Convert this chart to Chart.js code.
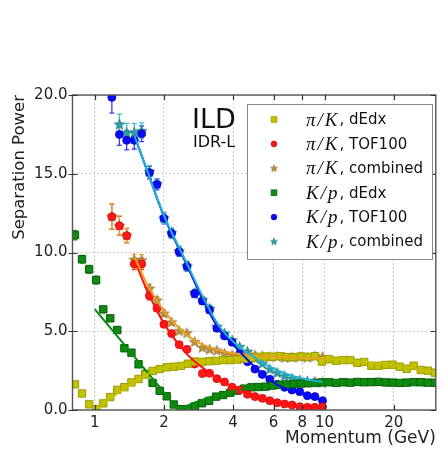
<!DOCTYPE html>
<html>
<head>
<meta charset="utf-8">
<script src="https://cdn.jsdelivr.net/npm/chart.js@4.4.0/dist/chart.umd.min.js"></script>
<style>
  html, body { margin: 0; padding: 0; background: #fff; }
  #wrap { width: 442px; height: 451px; }
</style>
</head>
<body>
<div id="wrap"><canvas id="sep"></canvas></div>
<script>
// dE/dx momentum bins (GeV)
const pDedx = [0.82, 0.88, 0.945, 1.014, 1.089, 1.168, 1.253, 1.346, 1.444, 1.551,
  1.664, 1.785, 1.917, 2.057, 2.208, 2.37, 2.543, 2.731, 2.929, 3.145,
  3.375, 3.621, 3.888, 4.172, 4.479, 4.806, 5.157, 5.536, 5.94, 6.377,
  6.843, 7.342, 7.884, 8.459, 9.085, 9.745, 10.46, 11.23, 12.05, 12.94,
  13.88, 14.89, 15.99, 17.16, 18.42, 19.77, 21.21, 22.78, 24.43, 26.23,
  28.15, 30.2];
const piKDedx = [1.63, 1.05, 0.36, 0.06, 0.42, 0.82, 1.28, 1.45, 1.75, 1.97,
  2.25, 2.48, 2.6, 2.71, 2.75, 2.8, 2.94, 3.08, 3.05, 3.1,
  3.12, 3.17, 3.17, 3.2, 3.25, 3.3, 3.37, 3.4, 3.38, 3.42,
  3.36, 3.35, 3.4, 3.37, 3.42, 3.07, 3.22, 3.13, 3.17, 3.17,
  3.0, 3.05, 2.81, 2.81, 2.86, 2.88, 2.75, 2.62, 2.81, 2.54,
  2.5, 2.37];
const kpDedx = [11.11, 9.57, 8.93, 8.25, 6.39, 5.82, 5.08, 3.92, 3.64, 2.9,
  2.29, 1.72, 1.22, 0.87, 0.35, 0.05, 0.05, 0.23, 0.43, 0.58,
  0.85, 0.95, 1.1, 1.23, 1.36, 1.44, 1.46, 1.48, 1.55, 1.6,
  1.62, 1.65, 1.68, 1.7, 1.72, 1.75, 1.76, 1.72, 1.76, 1.74,
  1.78, 1.76, 1.77, 1.79, 1.75, 1.74, 1.72, 1.74, 1.77, 1.76,
  1.74, 1.73];
const kpDedxErr = [0.3, 0.25, 0.25, 0.25, 0.15, 0.15];

// TOF momentum bins (GeV)
const pTof = [1.187, 1.28, 1.377, 1.486, 1.6, 1.73, 1.866, 2.0, 2.16, 2.33,
  2.52, 2.72, 2.94, 3.16, 3.4, 3.67, 3.96, 4.27, 4.62, 4.98,
  5.36, 5.78, 6.22, 6.7, 7.22, 7.8, 8.42, 9.08, 9.8];
const piKTof = [12.27, 11.7, 11.07, 9.27, 9.27, 7.25, 6.46, 5.44, 4.85, 4.15,
  3.85, 2.92, 2.31, 2.33, 1.99, 1.78, 1.45, 1.27, 1.0, 0.85,
  0.74, 0.59, 0.46, 0.38, 0.32, 0.21, 0.17, 0.17, 0.21];
const piKComb = [12.3, 11.72, 11.1, 9.55, 9.52, 7.72, 6.98, 6.14, 5.58, 5.03,
  4.9, 4.34, 3.97, 3.86, 3.79, 3.6, 3.49, 3.43, 3.54, 3.49,
  3.43, 3.38, 3.4, 3.33, 3.36, 3.38, 3.35, 3.42, 3.38];
const kpTof = [19.85, 17.5, 17.12, 17.12, 17.54, 15.07, 14.33, 12.17, 11.22, 10.05,
  9.12, 7.39, 6.92, 6.35, 5.19, 4.7, 4.3, 3.56, 3.07, 2.6,
  2.26, 1.95, 1.63, 1.44, 1.27, 1.16, 0.91, 0.85, 0.59];
const kpComb = [null, 18.14, 17.6, 17.63, 17.73, 15.15, 14.38, 12.2, 11.25, 10.1,
  9.15, 7.45, 7.0, 6.45, 5.29, 4.87, 4.44, 4.02, 3.72, 3.3,
  2.96, 2.6, 2.37, 2.16, 2.01, 1.9, 1.84, 1.8, 1.76];
const piKTofErr = [0.8, 0.6, 0.45, 0.35, 0.35, 0.25, 0.2, 0.2];
const piKCombErr = [0.8, 0.6, 0.45, 0.35, 0.35, 0.25, 0.2, 0.2];
const kpTofErr = [1.0, 0.7, 0.6, 0.55, 0.5, 0.4, 0.35, 0.35, 0.3, 0.3, 0.3, 0.25, 0.2, 0.2];
const kpCombErr = [null, 0.65, 0.6, 0.55, 0.5, 0.35, 0.3, 0.35, 0.3, 0.3, 0.3, 0.2, 0.2, 0.2];

// fitted curves
const pFitTof = [1.49, 1.7, 2.0, 2.5, 3.0, 3.45, 4.0, 5.0, 6.25, 8.0, 9.8];
const piKTofFit = [9.5, 7.5, 5.5, 3.6, 2.6, 2.0, 1.4, 0.85, 0.45, 0.22, 0.13];
const piKCombFit = [9.7, 7.9, 6.3, 4.8, 4.1, 3.8, 3.6, 3.45, 3.38, 3.3, 3.25];
const kpTofFit = [17.4, 15.1, 12.3, 9.3, 6.8, 5.2, 4.15, 2.7, 1.6, 1.02, 0.63];
const kpCombFit = [17.4, 15.1, 12.35, 9.4, 7.0, 5.4, 4.35, 3.3, 2.5, 2.0, 1.78];
const pFitPiKDedx = [1.0, 1.2, 1.5, 1.8, 2.2, 3.0, 4.0, 6.0, 10, 15, 20, 30.5];
const piKDedxFit = [0.0, 0.85, 1.8, 2.45, 2.8, 3.08, 3.22, 3.32, 3.28, 3.05, 2.85, 2.4];
const pFitKpDedxLow = [1.0, 2.32];
const kpDedxFitLow = [6.4, 0.0];
const pFitKpDedxHigh = [2.32, 2.6, 3.0, 3.5, 4.2, 5.0, 6.5, 9.0, 15, 30.5];
const kpDedxFitHigh = [0.0, 0.35, 0.7, 1.0, 1.25, 1.42, 1.57, 1.68, 1.74, 1.75];

const momentumTicks = [1, 2, 4, 6, 8, 10, 20];

const FONT = '"DejaVu Sans", sans-serif';
const pairs = (xs, ys) => xs.map((x, i) => ({ x: x, y: ys[i] }));

function starImage(r, fill, edge) {
  const s = Math.ceil(r * 2 + 2);
  const c = document.createElement('canvas');
  c.width = s; c.height = s;
  const g = c.getContext('2d');
  g.translate(s / 2, s / 2 + r * 0.08);
  g.beginPath();
  for (let i = 0; i < 10; i++) {
    const rad = i % 2 ? r * 0.42 : r;
    const a = -Math.PI / 2 + i * Math.PI / 5;
    g.lineTo(rad * Math.cos(a), rad * Math.sin(a));
  }
  g.closePath();
  g.fillStyle = fill; g.fill();
  g.strokeStyle = edge; g.lineWidth = 0.7; g.stroke();
  return c;
}

const C = {
  yellow: '#c2c200', yellowEdge: '#9c9c00',
  red: '#ff1a1a', redEdge: '#d40000',
  orangeStar: '#bf8f3a', orangeEdge: '#8a6a2a', orangeLine: '#e8a020',
  green: '#138a13', greenEdge: '#006000',
  blue: '#0a0aff', blueEdge: '#0000b0',
  tealStar: '#2aa3a8', tealEdge: '#1d6f7a', tealLine: '#1cb4d2'
};

const starOrange = starImage(5.5, C.orangeStar, C.orangeEdge);
const starTeal = starImage(5.5, C.tealStar, C.tealEdge);
const starOrangeSmall = starImage(3.6, C.orangeStar, C.orangeEdge);
const starTealSmall = starImage(3.6, C.tealStar, C.tealEdge);

function markers(label, data, style, fill, edge, errors, errColor, legendStyle) {
  return {
    label, data, showLine: false,
    pointStyle: style, pointRadius: style === 'rect' ? 5.2 : 4, pointHoverRadius: 4,
    backgroundColor: fill, borderColor: edge, pointBorderWidth: style === 'circle' ? 0.8 : 1,
    errors, errColor, legendStyle, order: 2
  };
}
function fitLine(data, color) {
  return {
    data, showLine: true, pointRadius: 0, borderColor: color, borderWidth: 2,
    cubicInterpolationMode: 'monotone', fill: false, order: 1
  };
}

// earlier datasets are painted on top
const datasets = [
  markers('π/K, dEdx', pairs(pDedx, piKDedx), 'rect', C.yellow, C.yellowEdge, null, null, 'rect'),
  markers('π/K, TOF100', pairs(pTof, piKTof), 'circle', C.red, C.redEdge, piKTofErr, '#e05010', 'circle'),
  markers('π/K, combined', pairs(pTof, piKComb), starOrange, C.orangeStar, C.orangeEdge, piKCombErr, '#e8a040', starOrangeSmall),
  markers('K/p, dEdx', pairs(pDedx, kpDedx), 'rect', C.green, C.greenEdge, kpDedxErr, '#2a9a2a', 'rect'),
  markers('K/p, TOF100', pairs(pTof, kpTof), 'circle', C.blue, C.blueEdge, kpTofErr, '#3a3aff', 'circle'),
  markers('K/p, combined', pairs(pTof, kpComb), starTeal, C.tealStar, C.tealEdge, kpCombErr, '#40c0d0', starTealSmall),
  fitLine(pairs(pFitTof, kpCombFit), C.tealLine),
  fitLine(pairs(pFitTof, kpTofFit), '#0a0aee'),
  fitLine(pairs(pFitTof, piKCombFit), C.orangeLine),
  fitLine(pairs(pFitTof, piKTofFit), '#ff1010'),
  fitLine(pairs(pFitPiKDedx, piKDedxFit), C.yellow),
  fitLine(pairs(pFitKpDedxLow, kpDedxFitLow), '#0a8a0a'),
  fitLine(pairs(pFitKpDedxHigh, kpDedxFitHigh), '#0a8a0a')
];

// vertical error bars from dataset.errors
const errorBars = {
  id: 'errorBars',
  beforeDatasetsDraw(chart) {
    const { ctx, chartArea: a, scales: { y } } = chart;
    ctx.save();
    ctx.beginPath();
    ctx.rect(a.left, a.top, a.right - a.left, a.bottom - a.top);
    ctx.clip();
    chart.data.datasets.forEach((ds, i) => {
      if (!ds.errors) return;
      const meta = chart.getDatasetMeta(i);
      meta.data.forEach((pt, j) => {
        const e = ds.errors[j];
        const v = ds.data[j].y;
        if (e == null || v == null) return;
        const y1 = y.getPixelForValue(v - e);
        const y2 = y.getPixelForValue(v + e);
        ctx.strokeStyle = ds.errColor;
        ctx.lineWidth = 1.3;
        ctx.beginPath();
        ctx.moveTo(pt.x, y1); ctx.lineTo(pt.x, y2);
        ctx.moveTo(pt.x - 2.5, y1); ctx.lineTo(pt.x + 2.5, y1);
        ctx.moveTo(pt.x - 2.5, y2); ctx.lineTo(pt.x + 2.5, y2);
        ctx.stroke();
      });
    });
    ctx.restore();
  }
};

// box around the plot with inward ticks, detector labels and the legend
const frameAndLegend = {
  id: 'frameAndLegend',
  afterDraw(chart) {
    const { ctx, chartArea: a, scales: { x, y } } = chart;
    ctx.save();
    ctx.strokeStyle = '#555';
    ctx.lineWidth = 1.4;
    ctx.strokeRect(a.left, a.top, a.right - a.left, a.bottom - a.top);
    ctx.lineWidth = 1.2;
    ctx.strokeStyle = '#333';
    ctx.beginPath();
    momentumTicks.forEach(v => {
      const px = Math.round(x.getPixelForValue(v)) + 0.5;
      ctx.moveTo(px, a.bottom); ctx.lineTo(px, a.bottom - 5);
      ctx.moveTo(px, a.top); ctx.lineTo(px, a.top + 5);
    });
    y.ticks.forEach(t => {
      const py = Math.round(y.getPixelForValue(t.value)) + 0.5;
      ctx.moveTo(a.left - 4, py); ctx.lineTo(a.left + 5, py);
      ctx.moveTo(a.right, py); ctx.lineTo(a.right - 5, py);
    });
    ctx.stroke();

    ctx.fillStyle = '#111';
    ctx.textBaseline = 'alphabetic';
    ctx.textAlign = 'left';
    ctx.font = '27px ' + FONT;
    ctx.fillText('ILD', 192, 128);
    ctx.font = '16px ' + FONT;
    ctx.fillText('IDR-L', 193, 147);

    // legend
    const box = { l: 247, t: 104, r: 432, b: 259 };
    ctx.fillStyle = '#fff';
    ctx.fillRect(box.l, box.t, box.r - box.l, box.b - box.t);
    ctx.strokeStyle = '#888';
    ctx.lineWidth = 1;
    ctx.strokeRect(box.l + 0.5, box.t + 0.5, box.r - box.l, box.b - box.t);
    let row = 0;
    chart.data.datasets.forEach(ds => {
      if (!ds.legendStyle) return;
      const cy = 119.5 + row * 24.4;
      ctx.fillStyle = ds.backgroundColor;
      ctx.strokeStyle = ds.borderColor;
      ctx.lineWidth = 0.8;
      Chart.helpers.drawPoint(ctx, { pointStyle: ds.legendStyle, radius: ds.legendStyle === 'rect' ? 4 : 2.8, borderWidth: 0.8, rotation: 0 }, 274, cy);
      const parts = ds.label.split(',');
      ctx.fillStyle = '#111';
      ctx.textBaseline = 'middle';
      ctx.font = 'italic 19px "Liberation Serif", serif';
      ctx.letterSpacing = '2px';
      ctx.fillText(parts[0], 306, cy + 1);
      const w = ctx.measureText(parts[0]).width;
      ctx.letterSpacing = '0px';
      ctx.font = '15px ' + FONT;
      ctx.fillText(',' + parts[1], 306 + w, cy + 1);
      row++;
    });
    ctx.restore();
  }
};

new Chart(document.getElementById('sep'), {
  type: 'scatter',
  data: { datasets },
  options: {
    responsive: true,
    maintainAspectRatio: false,
    animation: false,
    events: [],
    layout: { padding: { top: 95, right: -1, left: 0, bottom: 0 } },
    plugins: { legend: { display: false }, tooltip: { enabled: false } },
    scales: {
      x: {
        type: 'logarithmic', min: 0.8, max: 30.5,
        afterBuildTicks: s => { s.ticks = momentumTicks.map(v => ({ value: v })); },
        afterFit: s => { s.height = 41; s.paddingLeft = 0; s.paddingRight = 0; },
        ticks: { callback: v => String(v), color: '#222', font: { family: FONT, size: 15 }, padding: 4, maxRotation: 0, autoSkip: false },
        grid: { color: '#cfcfcf', lineWidth: 1, drawTicks: false },
        border: { display: false, dash: [2, 2] },
        title: { display: true, text: 'Momentum (GeV)', align: 'end', color: '#222', font: { family: FONT, size: 17 }, padding: { top: 0, bottom: 2 } }
      },
      y: {
        min: 0, max: 20,
        afterFit: s => { s.width = 72.5; s.paddingTop = 0; s.paddingBottom = 0; },
        ticks: { stepSize: 5, callback: v => v.toFixed(1), color: '#222', font: { family: FONT, size: 15 }, padding: 5 },
        grid: { color: '#cfcfcf', lineWidth: 1, drawTicks: false },
        border: { display: false, dash: [2, 2] },
        title: { display: true, text: 'Separation Power', align: 'end', color: '#222', font: { family: FONT, size: 16.5 }, padding: { top: 10, bottom: 0 } }
      }
    }
  },
  plugins: [errorBars, frameAndLegend]
});
</script>
</body>
</html>
